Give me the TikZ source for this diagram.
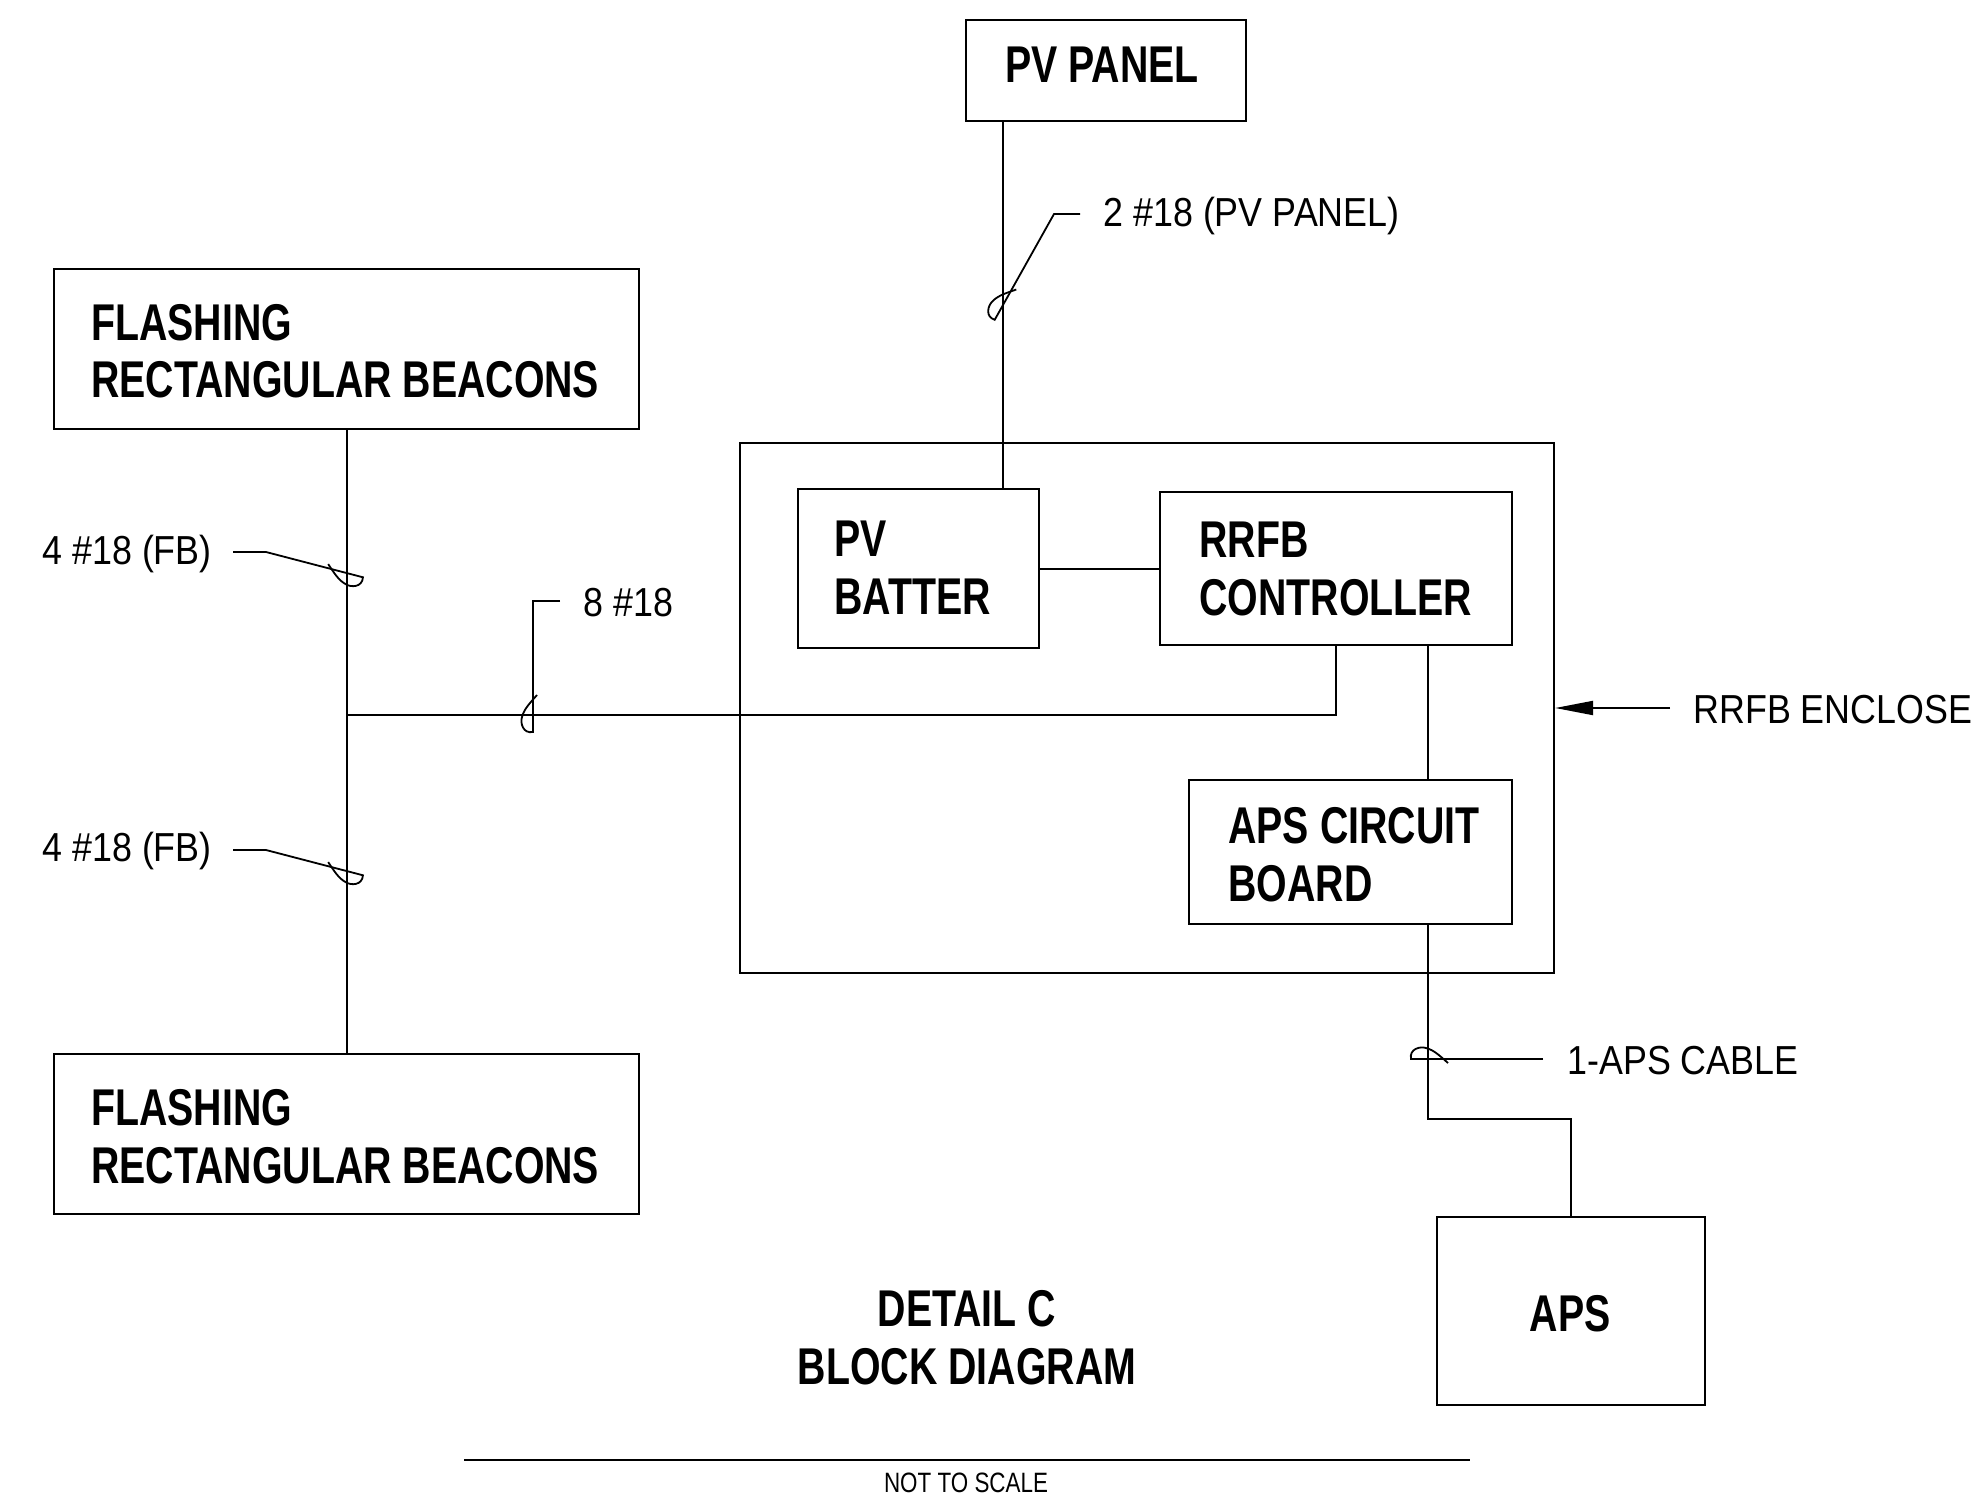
\documentclass[tikz,border=0pt]{standalone}
\usepackage{fontspec}
\setmainfont{Liberation Sans}
\newfontfamily\regfont{Liberation Sans}[FakeStretch=0.885]
\newfontfamily\hdfont{Liberation Sans}[FakeStretch=0.76]
\newfontfamily\smfont{Liberation Sans}[FakeStretch=0.80]
\usetikzlibrary{arrows.meta}
\tikzset{
  wire/.style={line width=1pt},
  leader/.style={line width=0.9pt},
  blk/.style={draw, line width=1.1pt, inner sep=0pt},
  hd/.style={inner sep=0pt, align=left, font=\hdfont\bfseries\fontsize{25.85}{28.75}\selectfont},
  lbl/.style={inner sep=0pt, font=\regfont\fontsize{20.25}{24}\selectfont},
  sml/.style={inner sep=0pt, font=\smfont\fontsize{14}{16}\selectfont}
}
\newcommand\wiremark[2]{%
  \begin{scope}[shift={(#1)},rotate=#2]
    \draw[leader] (0,0) -- (17,0) .. controls (19,10) and (8,13) .. (2,11)
      .. controls (-6,9) and (-12,3) .. (-20,-4);
  \end{scope}}
\begin{document}
\begin{tikzpicture}[x=0.5pt,y=-0.5pt]
\useasboundingbox (0,0) rectangle (1973,1502);
% blocks
\node[blk, minimum width=140pt, minimum height=50.5pt] (pvpanel) at (1106,70.5) {};
\node[blk, minimum width=292.5pt, minimum height=80pt] (fbtop) at (346.5,349) {};
\node[blk, minimum width=292.5pt, minimum height=80pt] (fbbot) at (346.5,1134) {};
\node[blk, minimum width=407pt, minimum height=265pt] (encl) at (1147,708) {};
\node[blk, minimum width=120.5pt, minimum height=79.5pt] (batt) at (918.5,568.5) {};
\node[blk, minimum width=176pt, minimum height=76.5pt] (ctrl) at (1336,568.5) {};
\node[blk, minimum width=161.5pt, minimum height=72pt] (apscb) at (1350.5,852) {};
\node[blk, minimum width=134pt, minimum height=94pt] (aps) at (1571,1311) {};
% block texts (base anchor = last line baseline)
\node[hd, anchor=base] (pvpaneltxt) at (1102,83) {PV PANEL};
\node[hd, anchor=base west] (fbtoptxt) at (91,398) {FLASHING\\RECTANGULAR BEACONS};
\node[hd, anchor=base west] (fbbottxt) at (91,1183) {FLASHING\\RECTANGULAR BEACONS};
\node[hd, anchor=base west] (batttxt) at (834,614) {PV\\BATTER};
\node[hd, anchor=base west] (ctrltxt) at (1199,615) {RRFB\\CONTROLLER};
\node[hd, anchor=base west] (apscbtxt) at (1228,901) {APS CIRCUIT\\BOARD};
\node[hd, anchor=base] (apstxt) at (1570,1331) {APS};
\node[hd, anchor=base, align=center] (detailtxt) at (967,1384) {DETAIL C\\BLOCK DIAGRAM};
% labels
\node[lbl, anchor=base west] (pvlab) at (1103,227) {2 \#18 (PV PANEL)};
\node[lbl, anchor=base west] (fbtoplab) at (42,564) {4 \#18 (FB)};
\node[lbl, anchor=base west] (fbbotlab) at (42,861) {4 \#18 (FB)};
\node[lbl, anchor=base west] (eightlab) at (583,616) {8 \#18};
\node[lbl, anchor=base west] (enclab) at (1693,723) {RRFB ENCLOSE};
\node[lbl, anchor=base west] (apslab) at (1567,1074) {1-APS CABLE};
\node[sml, anchor=base] (ntslab) at (966,1492) {NOT TO SCALE};
% wires
\coordinate (pvx) at (1003,0);
\coordinate (ax) at (1428,0);
\coordinate (j8) at (346.5,715);
\coordinate (apsbend) at (1571,1119);
\draw[wire] (pvpanel.south -| pvx) -- (batt.north -| pvx);
\draw[wire] (batt.east) -- (ctrl.west);
\draw[wire] (fbtop.south) -- (fbbot.north);
\draw[wire] (fbtop.south |- j8) -- (ctrl.south |- j8) -- (ctrl.south);
\draw[wire] (ctrl.south -| ax) -- (apscb.north -| ax);
\draw[wire] (apscb.south -| ax) |- (apsbend) -- (aps.north);
% enclosure arrow
\coordinate (encarrow) at (1670,708);
\draw[wire, -{Triangle[length=19pt,width=7pt]}] (encarrow) -- (encl.east);
% leaders with wire marks
\coordinate (l1a) at (1080,214); \coordinate (l1b) at (1054,214); \coordinate (c1) at (1003,305);
\draw[leader] (l1a) -- (l1b) -- (c1);
\wiremark{c1}{-119.3}
\coordinate (l2a) at (233,552); \coordinate (l2b) at (266,552); \coordinate (c2) at (346.5,573);
\draw[leader] (l2a) -- (l2b) -- (c2);
\wiremark{c2}{-14.6}
\coordinate (l3a) at (233,850); \coordinate (l3b) at (266,850); \coordinate (c3) at (346.5,871);
\draw[leader] (l3a) -- (l3b) -- (c3);
\wiremark{c3}{-14.6}
\coordinate (l4a) at (560,601); \coordinate (l4b) at (533,601); \coordinate (c4) at (533,715);
\draw[leader] (l4a) -- (l4b) -- (c4);
\wiremark{c4}{-90}
\coordinate (l5a) at (1543,1059); \coordinate (c5) at (1428,1059);
\draw[leader] (l5a) -- (c5);
\wiremark{c5}{180}
% scale line
\coordinate (nl) at (464,1460); \coordinate (nr) at (1470,1460);
\draw[line width=1.4pt] (nl) -- (nr);
\end{tikzpicture}
\end{document}
